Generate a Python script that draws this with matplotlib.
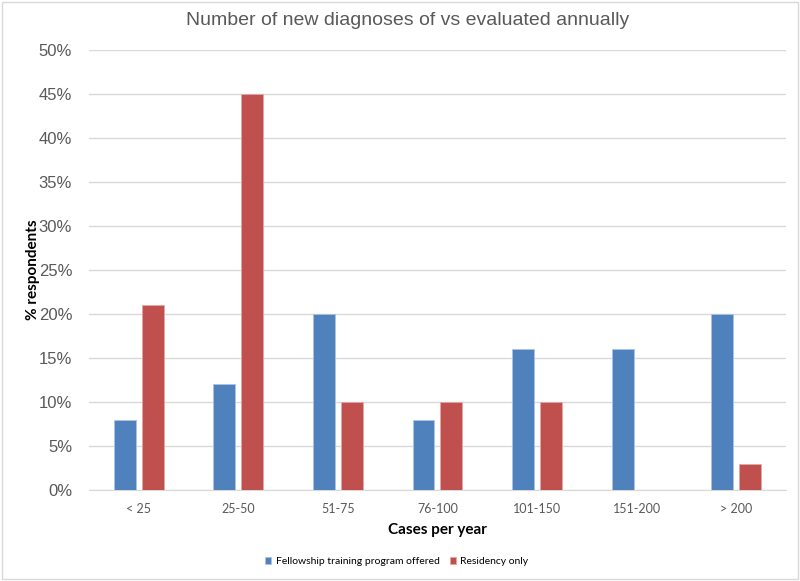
import numpy as np
import matplotlib
matplotlib.use("Agg")
from matplotlib import pyplot as plt
from matplotlib.patches import Rectangle

categories = ["< 25", "25-50", "51-75", "76-100", "101-150", "151-200", "> 200"]
fellowship = [8, 12, 20, 8, 16, 16, 20]
residency = [21, 45, 10, 10, 10, 0, 3]
series_names = ["Fellowship training program offered", "Residency only"]

fig = plt.figure(figsize=(8, 5.81), dpi=100)
ax = fig.add_axes([0.111, 0.1566, 0.8715, 0.7574])

x = np.arange(len(categories))
w = 0.22
ax.bar(x - 0.14, fellowship, w, color="#4F81BD", edgecolor="#A9C4E4", linewidth=0.6,
       label=series_names[0], zorder=3)
ax.bar(x + 0.14, residency, w, color="#C0504D", edgecolor="#E3A8A6", linewidth=0.6,
       label=series_names[1], zorder=3)

ax.set_xlim(-0.5, len(categories) - 0.5)
ax.set_ylim(0, 50)
ax.set_yticks(np.arange(0, 51, 5))
ax.set_yticklabels(["{}%".format(v) for v in range(0, 51, 5)],
                   fontsize=12, color="#595959", family="Liberation Sans")
ax.set_xticks(x)
ax.set_xticklabels(categories, fontsize=9, color="#595959", family="Lato")
ax.tick_params(axis="both", length=0)
ax.tick_params(axis="y", pad=12)
ax.tick_params(axis="x", pad=9)
ax.grid(axis="y", color="#D9D9D9", linewidth=1, zorder=0)
for s in ["top", "right", "left"]:
    ax.spines[s].set_visible(False)
ax.spines["bottom"].set_color("#D9D9D9")

ax.set_xlabel("Cases per year", fontsize=11, fontweight="bold", family="Lato", labelpad=6)
ax.set_ylabel("% respondents", fontsize=11, fontweight="bold", family="Lato", labelpad=-1)

fig.text(0.51, 0.965, "Number of new diagnoses of vs evaluated annually", ha="center",
         va="center", fontsize=14, color="#595959", family="Liberation Sans")

fig.legend(loc="center", bbox_to_anchor=(0.496, 0.033), ncol=2, frameon=False,
           handlelength=0.6, handleheight=0.6, columnspacing=1.0,
           handletextpad=0.4, prop={"family": "Lato", "size": 7.5})

fig.patches.append(Rectangle((0.002, 0.003), 0.996, 0.994, transform=fig.transFigure,
                             fill=False, edgecolor="#D9D9D9", linewidth=1))

plt.savefig("out.png", dpi=100)
